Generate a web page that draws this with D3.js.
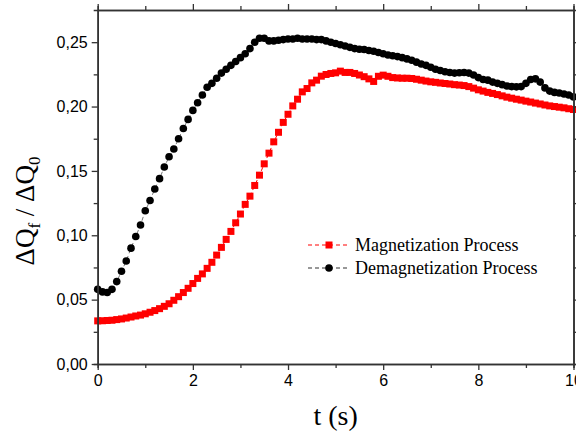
<!DOCTYPE html>
<html>
<head>
<meta charset="utf-8">
<script src="https://cdn.jsdelivr.net/npm/d3@7"></script>
<style>
  body { margin: 0; background: #fff; }
  svg { display: block; }
</style>
</head>
<body>
<div id="container"></div>
<script>
// sampling step of both curves (s)
var dt = 0.1;

// Magnetization Process (red squares)
var magnet = [
  0.0335, 0.0336, 0.0338, 0.0340, 0.0345, 0.0350, 0.0357, 0.0365, 0.0373, 0.0380,
  0.0390, 0.0402, 0.0415, 0.0430, 0.0448, 0.0468, 0.0495, 0.0523, 0.0555, 0.0588,
  0.0625, 0.0665, 0.0700, 0.0743, 0.0790, 0.0846, 0.0906, 0.0968, 0.1030, 0.1097,
  0.1165, 0.1240, 0.1304, 0.1387, 0.1467, 0.1555, 0.1638, 0.1726, 0.1800, 0.1877,
  0.1940, 0.2005, 0.2057, 0.2114, 0.2140, 0.2184, 0.2205, 0.2236, 0.2249, 0.2257,
  0.2262, 0.2275, 0.2265, 0.2265, 0.2257, 0.2245, 0.2232, 0.2215, 0.2195, 0.2235,
  0.2244, 0.2235, 0.2225, 0.2222, 0.2220, 0.2220, 0.2218, 0.2212, 0.2205, 0.2198,
  0.2192, 0.2188, 0.2183, 0.2179, 0.2175, 0.2170, 0.2167, 0.2163, 0.2155, 0.2143,
  0.2130, 0.2120, 0.2110, 0.2102, 0.2093, 0.2083, 0.2073, 0.2065, 0.2057, 0.2050,
  0.2042, 0.2035, 0.2027, 0.2020, 0.2012, 0.2005, 0.2000, 0.1995, 0.1990, 0.1983,
  0.1977
];

// Demagnetization Process (black circles)
var demagnet = [
  0.0580, 0.0560, 0.0555, 0.0580, 0.0640, 0.0720, 0.0800, 0.0900, 0.0990, 0.1080,
  0.1190, 0.1270, 0.1360, 0.1440, 0.1530, 0.1610, 0.1670, 0.1750, 0.1830, 0.1900,
  0.1970, 0.2030, 0.2090, 0.2150, 0.2180, 0.2220, 0.2260, 0.2290, 0.2320, 0.2350,
  0.2380, 0.2410, 0.2450, 0.2500, 0.2530, 0.2530, 0.2510, 0.2510, 0.2515, 0.2520,
  0.2525, 0.2525, 0.2530, 0.2525, 0.2525, 0.2525, 0.2520, 0.2520, 0.2510, 0.2500,
  0.2490, 0.2480, 0.2470, 0.2460, 0.2450, 0.2445, 0.2443, 0.2435, 0.2430, 0.2420,
  0.2410, 0.2400, 0.2395, 0.2388, 0.2380, 0.2370, 0.2360, 0.2345, 0.2330, 0.2320,
  0.2305, 0.2290, 0.2280, 0.2270, 0.2265, 0.2260, 0.2262, 0.2265, 0.2260, 0.2245,
  0.2225, 0.2210, 0.2205, 0.2190, 0.2180, 0.2170, 0.2160, 0.2155, 0.2153, 0.2155,
  0.2180, 0.2210, 0.2215, 0.2190, 0.2145, 0.2120, 0.2110, 0.2105, 0.2098, 0.2090,
  0.2075
];

var xTicks = [0, 2, 4, 6, 8, 10];
var yTicks = [0, 0.05, 0.10, 0.15, 0.20, 0.25];
var legendLabels = ["Magnetization Process", "Demagnetization Process"];

var w = 576, h = 432;
var margin = {left: 97.7, right: 2.5, top: 10, bottom: 68};

var svg = d3.select("div#container")
  .append("svg")
  .attr("width", w)
  .attr("height", h);

var x = d3.scaleLinear().domain([0, 10]).range([margin.left, w - margin.right]);
var y = d3.scaleLinear().domain([0, 0.275]).range([h - margin.bottom, margin.top]);

var fmt = function(d) { return d3.format(".2f")(d).replace(".", ","); };

var axisColor = "#333";
var tickFont = "'Liberation Sans', Arial, sans-serif";
var serif = "'Liberation Serif', 'Times New Roman', serif";

// data lines (dashed, hidden mostly under the markers)
var line = d3.line()
  .x(function(d, i) { return x(i * dt); })
  .y(function(d) { return y(d); });

svg.append("path").datum(magnet)
  .attr("d", line).attr("fill", "none")
  .attr("stroke", "red").attr("stroke-width", 1).attr("stroke-dasharray", "4,3");

svg.append("path").datum(demagnet)
  .attr("d", line).attr("fill", "none")
  .attr("stroke", "#777").attr("stroke-width", 1).attr("stroke-dasharray", "4,3");

var sq = 7;
var cr = 3.8;
svg.append("g").selectAll("rect")
  .data(magnet)
  .enter().append("rect")
  .attr("x", function(d, i) { return x(i * dt) - sq / 2; })
  .attr("y", function(d) { return y(d) - sq / 2; })
  .attr("width", sq).attr("height", sq)
  .attr("fill", "red");

svg.append("g").selectAll("circle")
  .data(demagnet)
  .enter().append("circle")
  .attr("cx", function(d, i) { return x(i * dt); })
  .attr("cy", function(d) { return y(d); })
  .attr("r", cr)
  .attr("fill", "black");

// axes: bottom, left with labels; top, right as frame with ticks
function styleAxis(g) {
  g.select(".domain").attr("stroke", axisColor).attr("stroke-width", 1.6);
  g.selectAll(".tick line").attr("stroke", axisColor).attr("stroke-width", 1.3);
  g.selectAll("text").attr("font-family", tickFont).attr("font-size", 16).attr("fill", "#000");
}

var xMinor = [1, 3, 5, 7, 9];
var yMinor = [0.025, 0.075, 0.125, 0.175, 0.225];

svg.append("g")
  .attr("transform", "translate(0," + y(0) + ")")
  .call(d3.axisBottom(x).tickValues(xTicks).tickSize(6).tickPadding(5).tickSizeOuter(0))
  .call(styleAxis);

svg.append("g")
  .attr("transform", "translate(" + x(0) + ",0)")
  .call(d3.axisLeft(y).tickValues(yTicks).tickFormat(fmt).tickSize(6).tickPadding(4).tickSizeOuter(0))
  .call(styleAxis);

svg.append("g")
  .attr("transform", "translate(0," + y(0.275) + ")")
  .call(d3.axisTop(x).tickValues(xTicks).tickSize(6).tickFormat("").tickSizeOuter(0))
  .call(styleAxis);

svg.append("g")
  .attr("transform", "translate(" + x(10) + ",0)")
  .call(d3.axisRight(y).tickValues(yTicks).tickSize(6).tickFormat("").tickSizeOuter(0))
  .call(styleAxis);

// minor ticks
svg.append("g").call(d3.axisBottom(x).tickValues(xMinor).tickSize(4).tickFormat(""))
  .attr("transform", "translate(0," + y(0) + ")").call(styleAxis);
svg.append("g").call(d3.axisTop(x).tickValues(xMinor).tickSize(4).tickFormat(""))
  .attr("transform", "translate(0," + y(0.275) + ")").call(styleAxis);
svg.append("g").call(d3.axisLeft(y).tickValues(yMinor).tickSize(4).tickFormat(""))
  .attr("transform", "translate(" + x(0) + ",0)").call(styleAxis);
svg.append("g").call(d3.axisRight(y).tickValues(yMinor).tickSize(4).tickFormat(""))
  .attr("transform", "translate(" + x(10) + ",0)").call(styleAxis);

// axis titles
svg.append("text")
  .attr("x", (x(0) + x(10)) / 2)
  .attr("y", 425)
  .attr("text-anchor", "middle")
  .attr("font-family", serif)
  .attr("font-size", 28)
  .text("t (s)");

var yt = svg.append("text")
  .attr("transform", "translate(34,211) rotate(-90)")
  .attr("text-anchor", "middle")
  .attr("font-family", serif)
  .attr("font-size", 27);
yt.append("tspan").text("ΔQ");
yt.append("tspan").attr("font-size", 17).attr("dy", 6).text("f");
yt.append("tspan").attr("dy", -6).text(" / ΔQ");
yt.append("tspan").attr("font-size", 17).attr("dy", 6).text("0");

// legend
var legend = svg.append("g").attr("transform", "translate(308,245)");
var lg = legend.selectAll("g")
  .data(legendLabels)
  .enter().append("g")
  .attr("transform", function(d, i) { return "translate(0," + i * 23 + ")"; });

lg.append("line")
  .attr("x1", 0).attr("x2", 40)
  .attr("stroke", function(d, i) { return i === 0 ? "red" : "#777"; })
  .attr("stroke-width", function(d, i) { return i === 0 ? 1 : 1.5; })
  .attr("stroke-dasharray", "4,3");

lg.filter(function(d, i) { return i === 0; })
  .append("rect")
  .attr("x", 21 - sq / 2).attr("y", -sq / 2)
  .attr("width", sq).attr("height", sq)
  .attr("fill", "red");

lg.filter(function(d, i) { return i === 1; })
  .append("circle")
  .attr("cx", 21).attr("r", cr)
  .attr("fill", "black");

lg.append("text")
  .attr("x", 47)
  .attr("y", 6)
  .attr("font-family", serif)
  .attr("font-size", 18)
  .text(function(d) { return d; });
</script>
</body>
</html>
